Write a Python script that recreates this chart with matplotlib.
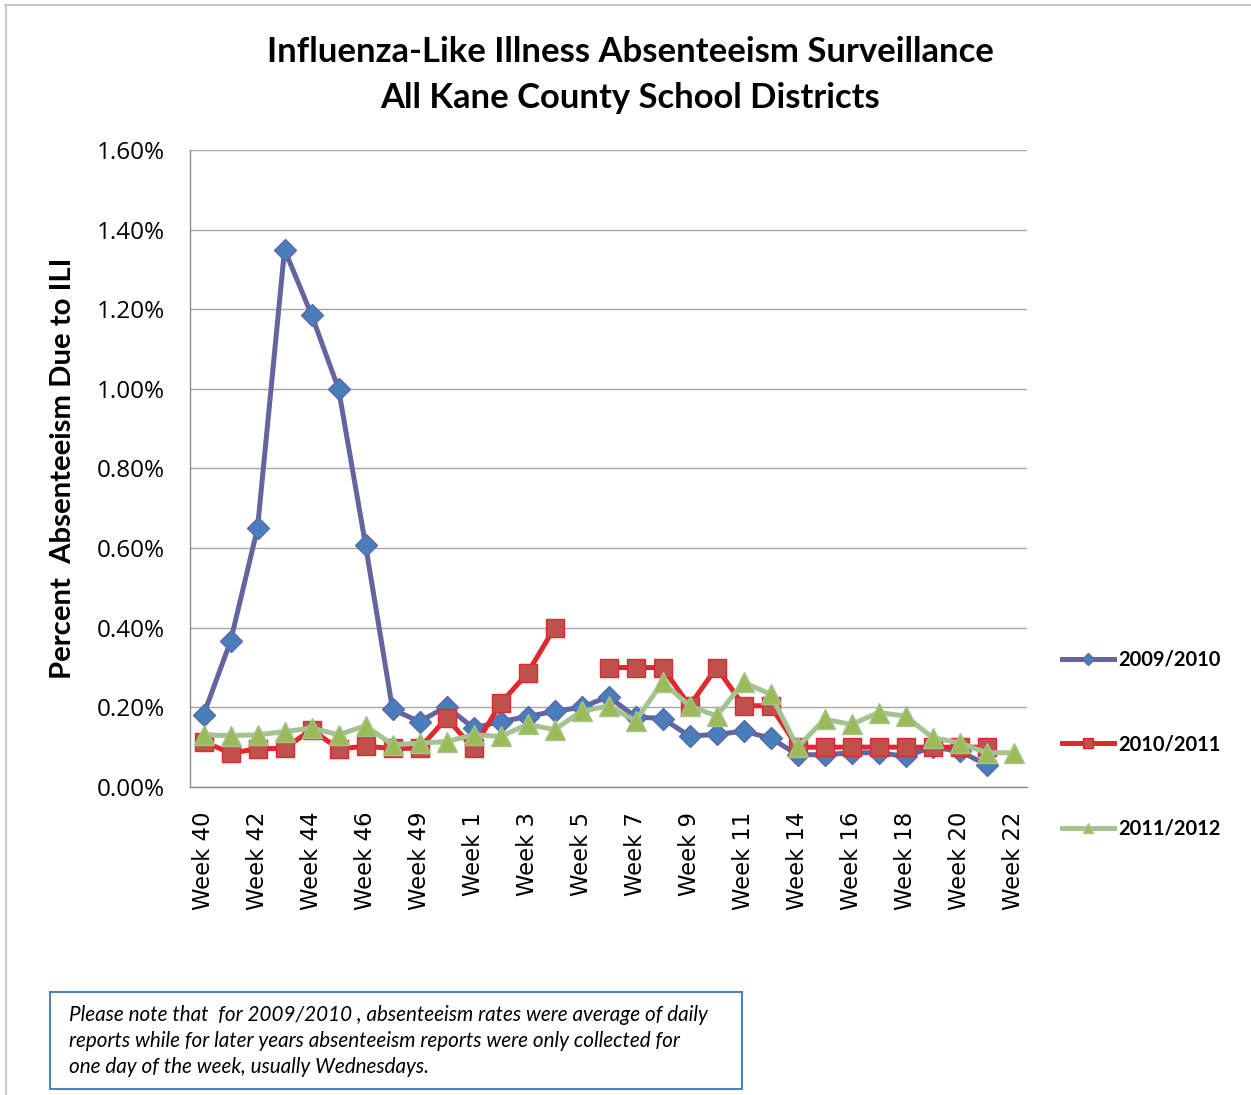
import numpy as np
import matplotlib
matplotlib.use('Agg')
import matplotlib.pyplot as plt
from matplotlib.lines import Line2D
from matplotlib.patches import Rectangle
from matplotlib.ticker import FuncFormatter

# Semanas escolares (categorias del eje X)
semanas = ['Week 40', 'Week 41', 'Week 42', 'Week 43', 'Week 44', 'Week 45', 'Week 46',
           'Week 48', 'Week 49', 'Week 50', 'Week 1', 'Week 2', 'Week 3', 'Week 4',
           'Week 5', 'Week 6', 'Week 7', 'Week 8', 'Week 9', 'Week 10', 'Week 11',
           'Week 13', 'Week 14', 'Week 15', 'Week 16', 'Week 17', 'Week 18', 'Week 19',
           'Week 20', 'Week 21', 'Week 22']

# Porcentaje de ausentismo por temporada (None = sin dato)
s2009 = [0.181, 0.366, 0.65, 1.35, 1.186, 1.00, 0.608, 0.195, 0.164, 0.202, 0.148,
         0.164, 0.177, 0.19, 0.20, 0.227, 0.176, 0.172, 0.128, 0.132, 0.14, 0.123,
         0.081, 0.081, 0.086, 0.086, 0.077, 0.10, 0.09, 0.056, None]
s2010 = [0.114, 0.085, 0.096, 0.097, 0.144, 0.096, 0.102, 0.097, 0.097, 0.173, 0.097,
         0.21, 0.286, 0.40, None, 0.30, 0.30, 0.30, 0.204, 0.30, 0.204, 0.204,
         0.10, 0.10, 0.10, 0.10, 0.10, 0.10, 0.10, 0.10, None]
s2011 = [0.131, 0.129, 0.131, 0.139, 0.148, 0.131, 0.154, 0.106, 0.11, 0.114, 0.131,
         0.127, 0.157, 0.144, 0.19, 0.204, 0.166, 0.263, 0.204, 0.178, 0.263, 0.233,
         0.10, 0.17, 0.157, 0.187, 0.178, 0.124, 0.111, 0.086, 0.086]
temporadas = ['2009/2010', '2010/2011', '2011/2012']

def arr(v):
    return np.array([np.nan if x is None else x for x in v], dtype=float)

x = np.arange(len(semanas))
fig = plt.figure(figsize=(12.51, 10.95), dpi=100)
ax = fig.add_axes([0.1519, 0.2813, 0.6691, 0.5817])

ax.plot(x, arr(s2009), '-', color='#64649F', lw=3.6, marker='D', ms=11.5,
        mfc='#4A7EBB', mec='#5A6AA8', mew=1, label=temporadas[0], zorder=3)
ax.plot(x, arr(s2010), '-', color='#E0282E', lw=3.6, marker='s', ms=13,
        mfc='#C0504D', mec='#E0282E', mew=1, label=temporadas[1], zorder=4)
ax.plot(x, arr(s2011), '-', color='#A6C291', lw=3.6, marker='^', ms=14,
        mfc='#9BBB59', mec='#A6C291', mew=1, label=temporadas[2], zorder=5)

# Ejes
ax.set_xlim(-0.5, len(semanas) - 0.5)
ax.set_ylim(0, 1.6)
ax.set_yticks(np.arange(0, 1.61, 0.2))
ax.yaxis.set_major_formatter(FuncFormatter(lambda v, p: '%.2f%%' % v))
ax.set_xticks(x[::2])
ax.set_xticklabels(semanas[::2], rotation=90, fontsize=16.4, family='DejaVu Sans')
ax.tick_params(axis='both', length=0)
ax.tick_params(axis='y', labelsize=17.5, pad=18)
ax.tick_params(axis='x', pad=18)
for lb in ax.get_yticklabels():
    lb.set_family(['Open Sans', 'DejaVu Sans'])
ax.grid(axis='y', color='#A6A6A6', lw=1)
ax.set_axisbelow(True)
for s in ['top', 'right']:
    ax.spines[s].set_visible(False)
for s in ['left', 'bottom']:
    ax.spines[s].set_color('#8C8C8C')
    ax.spines[s].set_linewidth(1)

ax.set_ylabel('Percent  Absenteeism Due to ILI', fontsize=21.2, fontweight='bold',
              family='Lato')
ax.yaxis.set_label_coords(-0.136, 0.5)

fig.text(0.504, 0.9315, 'Influenza-Like Illness Absenteeism Surveillance\nAll Kane County School Districts',
         ha='center', va='center', fontsize=24.9, fontweight='bold', family='Lato',
         linespacing=1.55)

# Leyenda a la derecha
ax.legend(loc='center left', bbox_to_anchor=(1.02, 0.067), frameon=False,
          prop={'family': 'Lato', 'weight': 'bold', 'size': 14.5},
          labelspacing=3.2, handlelength=2.6, handletextpad=0.2, markerscale=0.55)

# Nota al pie
fig.patches.append(Rectangle((50 / 1251, 1 - 1089 / 1095), 692 / 1251, 97 / 1095,
                             transform=fig.transFigure, fill=False,
                             edgecolor='#4F81BD', lw=1.5))
fig.text(69 / 1251, 1 - 1041 / 1095,
         'Please note that  for 2009/2010 , absenteeism rates were average of daily\n'
         'reports while for later years absenteeism reports were only collected for\n'
         'one day of the week, usually Wednesdays.',
         ha='left', va='center', fontsize=14.9, style='italic', family='Lato',
         linespacing=1.38)

# Borde del grafico
fig.lines.append(Line2D([5 / 1251, 1], [1 - 5 / 1095, 1 - 5 / 1095],
                        transform=fig.transFigure, color='#C8C8C8', lw=1.5))
fig.lines.append(Line2D([6 / 1251, 6 / 1251], [0, 1 - 5 / 1095],
                        transform=fig.transFigure, color='#C8C8C8', lw=1.5))

fig.savefig('out.png', dpi=100)
